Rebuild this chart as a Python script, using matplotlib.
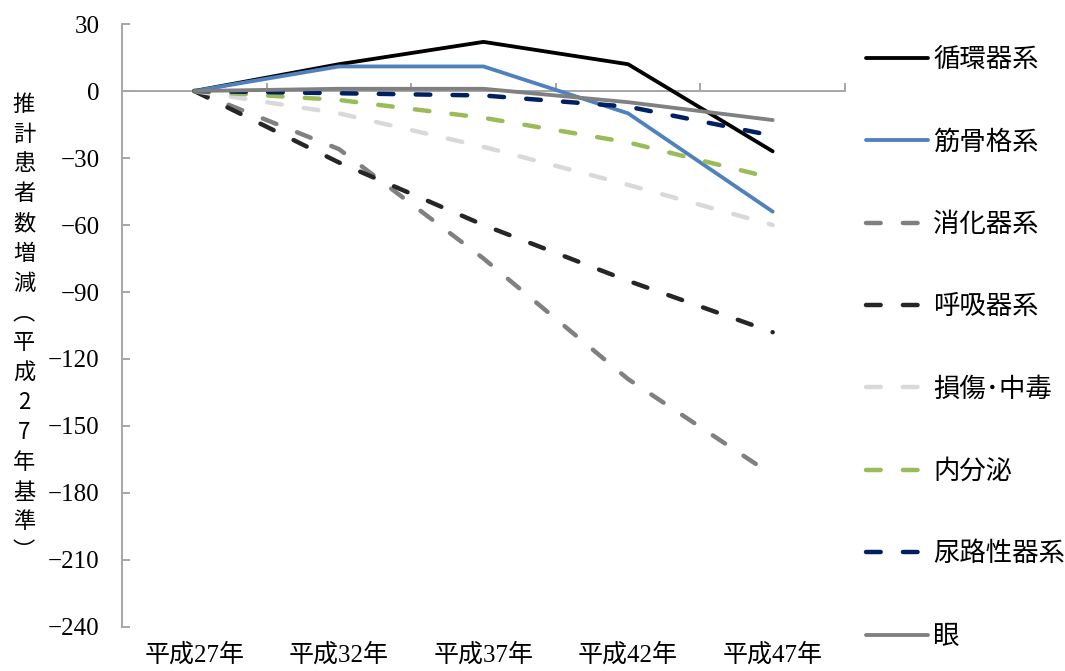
import matplotlib
matplotlib.use("Agg")
import matplotlib.pyplot as plt
from matplotlib.lines import Line2D

# 年次区分
years = ["平成27年", "平成32年", "平成37年", "平成42年", "平成47年"]

# 傷病分類別の推計患者数増減（平成27年基準）
circulatory = [0, 12, 22, 12, -27]
musculoskeletal = [0, 11, 11, -10, -54]
digestive = [0, -26, -75, -129, -172]
respiratory = [0, -32, -60, -85, -108]
injury = [0, -10, -25, -42, -60]
endocrine = [0, -4, -12, -23, -39]
genitourinary = [0, -1, -2, -7, -20]
eye = [0, 1, 1, -5, -13]

series_names = ["循環器系", "筋骨格系", "消化器系", "呼吸器系",
                "損傷･中毒", "内分泌", "尿路性器系", "眼"]
series_values = [circulatory, musculoskeletal, digestive, respiratory,
                 injury, endocrine, genitourinary, eye]
series_colors = ["#000000", "#4F81BD", "#808080", "#262626",
                 "#D9D9D9", "#9BBB59", "#002060", "#808080"]
series_dashed = [False, False, True, True, True, True, True, False]

y_ticks = [30, 0, -30, -60, -90, -120, -150, -180, -210, -240]
y_title = "推計患者数増減︵平成27年基準︶"

CJK = "Noto Sans CJK JP"
SERIF_CJK = ["Liberation Serif", CJK]
AXIS_GRAY = "#A6A6A6"

SOLID_LW = 2.75
DASH_LW = 3.2
DASH = (0, (3.3, 5.0))


def line_style(dashed):
    if dashed:
        return dict(lw=DASH_LW, linestyle=DASH, dash_capstyle="round",
                    dash_joinstyle="round")
    return dict(lw=SOLID_LW, linestyle="-", solid_capstyle="round",
                solid_joinstyle="round")


fig = plt.figure(figsize=(10.65, 6.71), dpi=100)
ax = fig.add_axes([0.1146, 0.0656, 0.6788, 0.8986])

x = list(range(len(years)))
for name, vals, col, dashed in zip(series_names, series_values,
                                   series_colors, series_dashed):
    ax.plot(x, vals, color=col, label=name, **line_style(dashed))

ax.set_xlim(-0.5, len(years) - 0.5)
ax.set_ylim(-240, 30)

# 縦軸
ax.set_yticks(y_ticks)
ax.set_yticklabels([f"{v}".replace("-", "\u2212") for v in y_ticks],
                   family="Liberation Serif", fontsize=18)
ax.tick_params(axis="y", direction="in", length=6, width=1.4,
               color=AXIS_GRAY, pad=16)
ax.spines["left"].set_color(AXIS_GRAY)
ax.spines["left"].set_linewidth(1.4)
ax.spines["top"].set_visible(False)
ax.spines["right"].set_visible(False)

# 横軸（0の位置に軸線、区切り目盛りは上向き）
ax.spines["bottom"].set_position(("data", 0))
ax.spines["bottom"].set_color(AXIS_GRAY)
ax.spines["bottom"].set_linewidth(1.4)
ax.spines["bottom"].set_zorder(1)
ax.set_xticks([i + 0.5 for i in x])
ax.set_xticklabels([])
ax.tick_params(axis="x", direction="in", length=6, width=1.4,
               color=AXIS_GRAY)

# 年次ラベルはプロット領域の下端に表示
sec = ax.secondary_xaxis(0)
sec.set_xticks(x)
sec.set_xticklabels(years, family=SERIF_CJK, fontsize=18)
sec.tick_params(length=0, pad=12)
sec.spines["bottom"].set_visible(False)

# 縦書きの軸タイトル
fig.text(24 / 1065, 1 - 328 / 671, "\n".join(y_title), family=CJK,
         fontsize=16, ha="center", va="center", linespacing=1.38)

# 凡例
handles = [Line2D([], [], color=col, **line_style(dashed))
           for col, dashed in zip(series_colors, series_dashed)]
fig.legend(handles, series_names, loc="upper left",
           bbox_to_anchor=(866 / 1065, 1 - 46 / 671),
           frameon=False, prop={"family": CJK, "size": 19},
           handlelength=2.35, handletextpad=0.2, labelspacing=2.1,
           borderpad=0, borderaxespad=0)

fig.savefig("out.png", dpi=100)
